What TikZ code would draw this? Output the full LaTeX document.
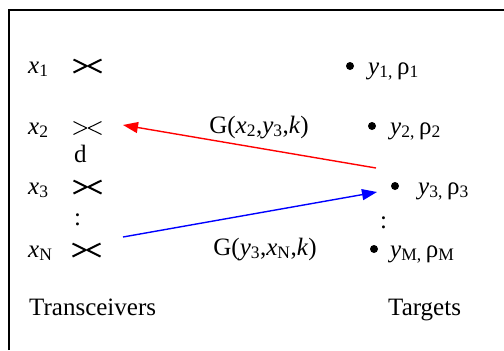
\documentclass[tikz,border=0pt]{standalone}
\usepackage{fontspec}
\setmainfont{Liberation Serif}
\usetikzlibrary{arrows.meta}

\tikzset{
  lbl/.style={anchor=base west, inner sep=0pt, font=\fontsize{25bp}{30bp}\selectfont},
  mid/.style={anchor=base, inner sep=0pt, font=\fontsize{25bp}{30bp}\selectfont},
  target/.style={circle, fill=black, inner sep=0pt, minimum size=8bp},
  link/.style={line width=1.4bp, -{Triangle[length=15bp,width=11bp]}},
  pics/antenna/.style={code={
    \draw[line width=#1, line join=round] (-14,-6.5) -- (-0.8,0) -- (-14,6.5)
      (14,-6.5) -- (0.8,0) -- (14,6.5);
  }}
}

\begin{document}
\begin{tikzpicture}[x=1bp, y=-1bp]
\useasboundingbox (0,0) rectangle (504,350);
% frame
\draw[line width=2bp] (9,350) -- (9,9.5) -- (504,9.5);

% transceivers
\node[lbl] (x1) at (28,73) {\textit{x}\textsubscript{1}};
\node[lbl] (x2) at (28,134) {\textit{x}\textsubscript{2}};
\node[lbl] (x3) at (28,194) {\textit{x}\textsubscript{3}};
\node[lbl] (xN) at (28,257) {\textit{x}\textsubscript{N}};
\coordinate (a1) at (87.5,66);
\coordinate (a2) at (87.5,128);
\coordinate (a3) at (87.5,187);
\coordinate (aN) at (86.5,250);
\pic at (a1) {antenna=2bp};
\pic at (a2) {antenna=1bp};
\pic at (a3) {antenna=2bp};
\pic at (aN) {antenna=2bp};
\node[lbl] (d) at (74,162) {d};
\node[lbl] (xdots) at (74,225) {:};
\node[lbl] (trx) at (29,315) {Transceivers};

% targets
\node[target] (t1) at (350,66) {};
\node[target] (t2) at (372,126) {};
\node[target] (t3) at (395,186) {};
\node[target] (tM) at (374,249) {};
\node[lbl] (y1) at (368,74) {\textit{y}\textsubscript{1,}\,ρ\textsubscript{1}};
\node[lbl] (y2) at (390,134) {\textit{y}\textsubscript{2,}\,ρ\textsubscript{2}};
\node[lbl] (y3) at (418,194) {\textit{y}\textsubscript{3,}\,ρ\textsubscript{3}};
\node[lbl] (yM) at (390,257) {\textit{y}\textsubscript{M,}\,ρ\textsubscript{M}};
\node[lbl] (ydots) at (380,228) {:};
\node[lbl] (tgt) at (388,315) {Targets};

% links
\coordinate (r0) at (376,168);
\coordinate (r1) at (123,125);
\coordinate (b0) at (123,237);
\coordinate (b1) at (377,192);
\draw[link, red] (r0) -- (r1);
\draw[link, blue] (b0) -- (b1);
\node[mid] (g1) at (259,133) {G(\textit{x}\textsubscript{2},\textit{y}\textsubscript{3},\textit{k})};
\node[mid] (g2) at (265,255) {G(\textit{y}\textsubscript{3},\textit{x}\textsubscript{N},\textit{k})};
\end{tikzpicture}
\end{document}
